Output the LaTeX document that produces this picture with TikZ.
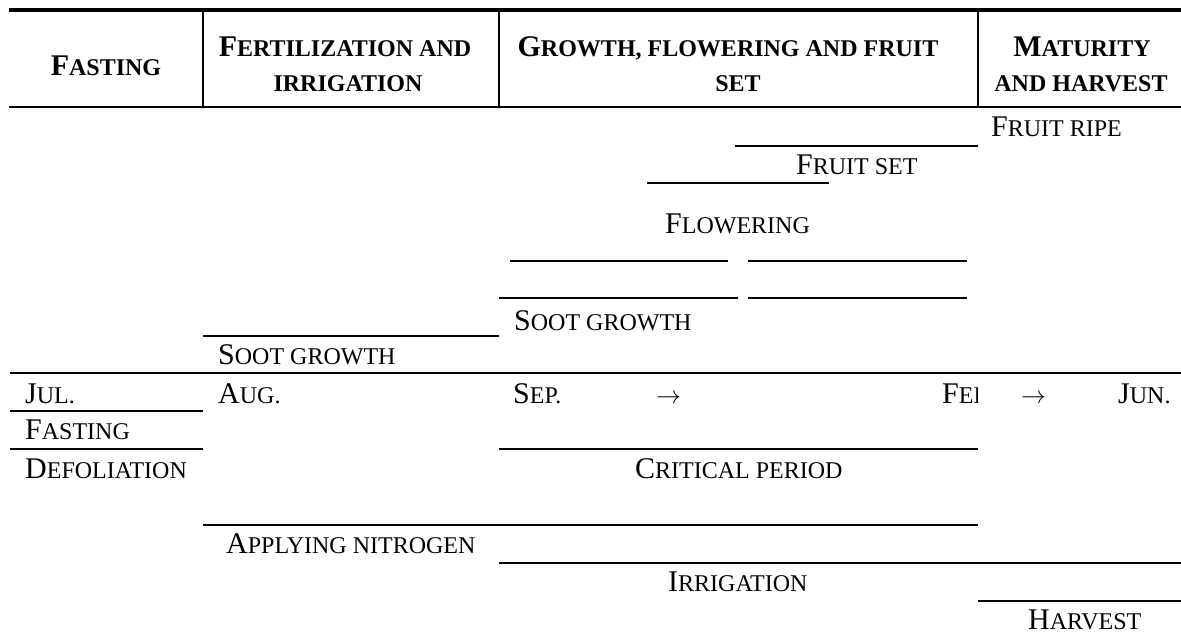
\documentclass[tikz,border=0pt]{standalone}
\usepackage{fontspec}
\setmainfont{Liberation Serif}
\newcommand{\Sm}{\fontsize{24}{28}\selectfont}
\tikzset{
  txt/.style={anchor=base west, inner sep=0pt, font=\fontsize{30}{36}\selectfont},
  hdr/.style={anchor=base, inner sep=0pt, font=\bfseries\fontsize{30}{36}\selectfont},
  arrowtxt/.style={anchor=base west, inner sep=0pt, font=\fontsize{28}{32}\selectfont},
  rulethick/.style={line width=2pt},
  rulethin/.style={line width=1.2pt},
  toprule/.style={line width=4pt},
  midrule/.style={line width=2pt},
  divider/.style={line width=1.6pt}
}
\begin{document}
\begin{tikzpicture}[x=1pt,y=-1pt]
\useasboundingbox (0,0) rectangle (1181,637);
% table header rules
\draw[toprule] (9,10) -- (1181,10);
\draw[midrule] (9,107) -- (1181,107);
\draw[divider] (203,10) -- (203,107);
\draw[divider] (499,10) -- (499,107);
\draw[divider] (978,10) -- (978,107);
% header texts
\node[hdr] (hFast) at (106,75) {F{\Sm ASTING}};
\node[hdr] (hFert1) at (345,56) {F{\Sm ERTILIZATION AND}};
\node[hdr] (hFert2) at (348,91) {{\Sm IRRIGATION}};
\node[hdr] (hGrow1) at (728,56) {G{\Sm ROWTH, FLOWERING AND FRUIT}};
\node[hdr] (hGrow2) at (738,91) {{\Sm SET}};
\node[hdr] (hMat1) at (1082,56) {M{\Sm ATURITY}};
\node[hdr] (hMat2) at (1081,91) {{\Sm AND HARVEST}};
% body rules
\draw[rulethick] (735,146) -- (978,146);
\draw[rulethick] (647,183) -- (829,183);
\draw[rulethin] (510,261) -- (728,261);
\draw[rulethin] (748,261) -- (967,261);
\draw[rulethin] (499,298) -- (738,298);
\draw[rulethick] (510,298) -- (728,298);
\draw[rulethin] (748,298) -- (967,298);
\draw[rulethin] (203,336) -- (499,336);
\draw[rulethick] (10,373) -- (203,373);
\draw[rulethin] (203,373) -- (499,373);
\draw[rulethick] (499,373) -- (1181,373);
\draw[rulethick] (10,411) -- (203,411);
\draw[rulethick] (10,449) -- (203,449);
\draw[rulethick] (499,449) -- (978,449);
\draw[rulethick] (203,525) -- (978,525);
\draw[rulethick] (499,563) -- (1181,563);
\draw[rulethick] (978,601) -- (1181,601);
% body texts
\node[txt] (fruitripe) at (991,136) {F{\Sm RUIT RIPE}};
\node[txt] (fruitset) at (796,174) {F{\Sm RUIT SET}};
\node[txt] (flowering) at (665,233) {F{\Sm LOWERING}};
\node[txt] (sootR) at (514,330) {S{\Sm OOT GROWTH}};
\node[txt] (sootL) at (218,364) {S{\Sm OOT GROWTH}};
\node[txt] (jul) at (25,403) {J{\Sm UL.}};
\node[txt] (aug) at (218,403) {A{\Sm UG.}};
\node[txt] (sep) at (513,403) {S{\Sm EP.}};
\node[arrowtxt] (arrA) at (656,403) {$\rightarrow$};
\begin{scope}
\clip (900,370) rectangle (977,420);
\node[txt] (feb) at (942,403) {F{\Sm EB.}};
\end{scope}
\node[arrowtxt] (arrB) at (1021,403) {$\rightarrow$};
\node[txt] (jun) at (1118,403) {J{\Sm UN.}};
\node[txt] (fasting) at (25,439) {F{\Sm ASTING}};
\node[txt] (defol) at (25,478) {D{\Sm EFOLIATION}};
\node[txt] (critical) at (635,478) {C{\Sm RITICAL PERIOD}};
\node[txt] (applying) at (226,553) {A{\Sm PPLYING NITROGEN}};
\node[txt] (irrig) at (668,591) {I{\Sm RRIGATION}};
\node[txt] (harvest) at (1028,629) {H{\Sm ARVEST}};
\end{tikzpicture}
\end{document}
